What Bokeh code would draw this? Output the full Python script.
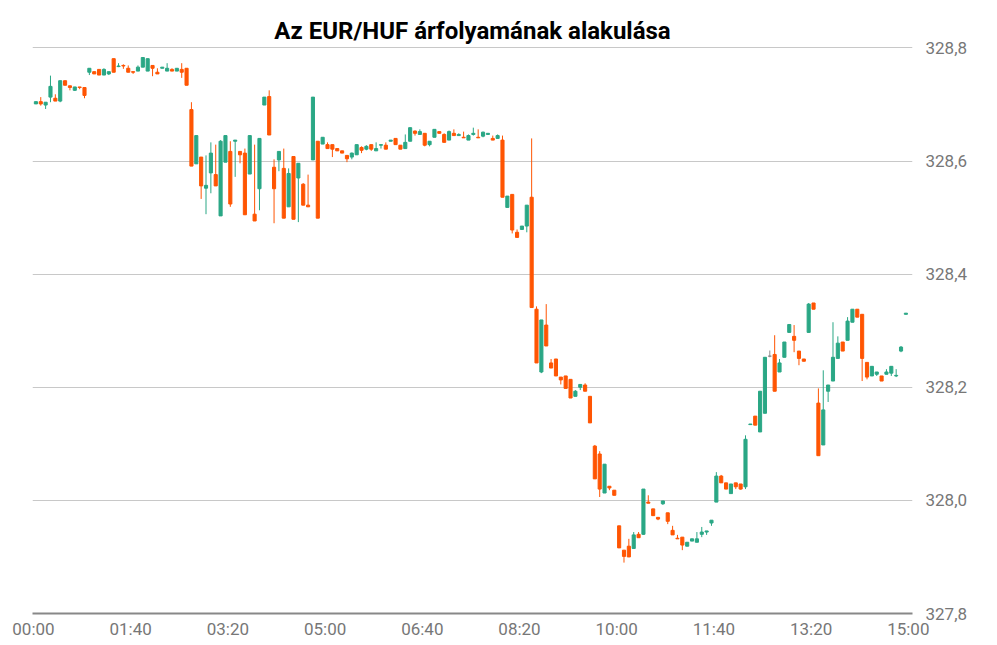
from bokeh.plotting import figure
from bokeh.models import Range1d, FixedTicker, CustomJSTickFormatter, ColumnDataSource
from bokeh.embed import file_html
from bokeh.resources import INLINE

TITLE = "Az EUR/HUF árfolyamának alakulása"

# 5-minute candles, start minute of each interval (00:00 .. 14:55)
candle_start = list(range(0, 900, 5))

opens = [
    328.701, 328.705, 328.699, 328.713, 328.711, 328.706, 328.742, 328.733, 328.725, 328.731,
    328.730, 328.757, 328.758, 328.762, 328.752, 328.754, 328.781, 328.767, 328.769, 328.764,
    328.758, 328.759, 328.766, 328.759, 328.769, 328.757, 328.764, 328.759, 328.762, 328.759,
    328.762, 328.764, 328.691, 328.595, 328.607, 328.552, 328.579, 328.576, 328.503, 328.598,
    328.617, 328.635, 328.617, 328.614, 328.577, 328.506, 328.551, 328.699, 328.714, 328.589,
    328.602, 328.587, 328.519, 328.608, 328.570, 328.559, 328.522, 328.602, 328.635, 328.630,
    328.629, 328.629, 328.622, 328.618, 328.610, 328.607, 328.611, 328.624, 328.621, 328.629,
    328.618, 328.628, 328.628, 328.635, 328.640, 328.628, 328.622, 328.635, 328.653, 328.647,
    328.649, 328.629, 328.642, 328.652, 328.647, 328.637, 328.649, 328.645, 328.642, 328.637,
    328.647, 328.642, 328.644, 328.647, 328.640, 328.640, 328.637, 328.518, 328.541, 328.474,
    328.479, 328.485, 328.536, 328.338, 328.227, 328.310, 328.243, 328.250, 328.218, 328.220,
    328.214, 328.184, 328.200, 328.204, 328.184, 328.096, 328.082, 328.013, 328.025, 328.018,
    327.955, 327.912, 327.919, 327.915, 327.940, 327.940, 327.997, 327.985, 327.970, 327.994,
    327.978, 327.947, 327.933, 327.935, 327.919, 327.928, 327.926, 327.940, 327.944, 327.960,
    327.997, 328.043, 328.031, 328.012, 328.031, 328.029, 328.024, 328.134, 328.149, 328.121,
    328.154, 328.255, 328.258, 328.227, 328.253, 328.297, 328.290, 328.264, 328.250, 328.297,
    328.349, 328.172, 328.098, 328.193, 328.211, 328.251, 328.280, 328.283, 328.315, 328.338,
    328.329, 328.244, 328.220, 328.223, 328.220, 328.223, 328.225, 328.220, 328.264, 328.329,
]
highs = [
    328.705, 328.713, 328.704, 328.751, 328.718, 328.742, 328.742, 328.733, 328.731, 328.731,
    328.730, 328.764, 328.758, 328.762, 328.764, 328.758, 328.781, 328.773, 328.771, 328.769,
    328.758, 328.769, 328.783, 328.781, 328.769, 328.764, 328.766, 328.773, 328.764, 328.764,
    328.773, 328.764, 328.704, 328.645, 328.607, 328.610, 328.633, 328.629, 328.637, 328.645,
    328.635, 328.637, 328.617, 328.622, 328.645, 328.629, 328.640, 328.713, 328.725, 328.603,
    328.617, 328.622, 328.587, 328.608, 328.596, 328.561, 328.576, 328.713, 328.635, 328.642,
    328.633, 328.629, 328.622, 328.618, 328.610, 328.615, 328.629, 328.626, 328.628, 328.629,
    328.633, 328.629, 328.633, 328.637, 328.640, 328.628, 328.647, 328.659, 328.654, 328.656,
    328.649, 328.635, 328.656, 328.652, 328.649, 328.654, 328.656, 328.649, 328.652, 328.647,
    328.659, 328.656, 328.652, 328.649, 328.645, 328.647, 328.645, 328.538, 328.541, 328.479,
    328.485, 328.522, 328.640, 328.343, 328.319, 328.347, 328.250, 328.250, 328.218, 328.220,
    328.214, 328.195, 328.205, 328.207, 328.184, 328.098, 328.087, 328.064, 328.025, 328.018,
    327.955, 327.912, 327.932, 327.944, 327.944, 328.020, 328.009, 327.985, 327.970, 327.999,
    327.978, 327.955, 327.939, 327.935, 327.926, 327.932, 327.944, 327.953, 327.946, 327.965,
    328.050, 328.045, 328.031, 328.029, 328.031, 328.029, 328.115, 328.135, 328.149, 328.193,
    328.253, 328.265, 328.292, 328.250, 328.280, 328.311, 328.310, 328.264, 328.250, 328.349,
    328.349, 328.198, 328.230, 328.204, 328.315, 328.290, 328.280, 328.324, 328.338, 328.338,
    328.329, 328.244, 328.237, 328.227, 328.220, 328.232, 328.237, 328.232, 328.273, 328.331,
]
lows = [
    328.701, 328.698, 328.692, 328.704, 328.706, 328.704, 328.734, 328.725, 328.724, 328.727,
    328.711, 328.752, 328.754, 328.752, 328.752, 328.752, 328.757, 328.766, 328.763, 328.757,
    328.754, 328.759, 328.766, 328.759, 328.750, 328.754, 328.764, 328.759, 328.759, 328.759,
    328.747, 328.734, 328.591, 328.595, 328.533, 328.506, 328.543, 328.556, 328.503, 328.598,
    328.519, 328.572, 328.596, 328.505, 328.577, 328.494, 328.513, 328.699, 328.646, 328.490,
    328.582, 328.499, 328.519, 328.497, 328.492, 328.522, 328.519, 328.602, 328.499, 328.630,
    328.622, 328.607, 328.618, 328.614, 328.598, 328.603, 328.611, 328.614, 328.619, 328.618,
    328.618, 328.622, 328.621, 328.635, 328.629, 328.621, 328.622, 328.635, 328.645, 328.647,
    328.626, 328.626, 328.642, 328.649, 328.633, 328.637, 328.645, 328.645, 328.641, 328.637,
    328.645, 328.641, 328.642, 328.647, 328.637, 328.640, 328.536, 328.518, 328.472, 328.465,
    328.479, 328.474, 328.341, 328.243, 328.225, 328.273, 328.234, 328.220, 328.205, 328.198,
    328.181, 328.184, 328.195, 328.193, 328.137, 328.038, 328.006, 328.013, 328.018, 328.009,
    327.916, 327.890, 327.900, 327.915, 327.934, 327.939, 327.995, 327.973, 327.965, 327.992,
    327.958, 327.939, 327.932, 327.912, 327.919, 327.928, 327.926, 327.935, 327.939, 327.955,
    327.997, 328.031, 328.020, 328.012, 328.020, 328.019, 328.020, 328.134, 328.133, 328.121,
    328.154, 328.253, 328.193, 328.227, 328.253, 328.297, 328.262, 328.239, 328.246, 328.297,
    328.338, 328.079, 328.098, 328.174, 328.211, 328.251, 328.264, 328.283, 328.315, 328.324,
    328.211, 328.214, 328.220, 328.220, 328.211, 328.223, 328.220, 328.218, 328.262, 328.329,
]
closes = [
    328.705, 328.701, 328.704, 328.732, 328.706, 328.742, 328.734, 328.730, 328.731, 328.730,
    328.716, 328.764, 328.754, 328.752, 328.762, 328.758, 328.757, 328.768, 328.768, 328.757,
    328.757, 328.766, 328.783, 328.781, 328.764, 328.754, 328.766, 328.764, 328.759, 328.764,
    328.757, 328.734, 328.591, 328.645, 328.556, 328.557, 328.614, 328.556, 328.635, 328.645,
    328.524, 328.637, 328.611, 328.505, 328.645, 328.494, 328.640, 328.713, 328.646, 328.551,
    328.617, 328.499, 328.578, 328.497, 328.596, 328.522, 328.519, 328.713, 328.499, 328.642,
    328.622, 328.621, 328.618, 328.614, 328.604, 328.614, 328.629, 328.619, 328.626, 328.621,
    328.622, 328.629, 328.621, 328.637, 328.629, 328.621, 328.633, 328.659, 328.649, 328.652,
    328.628, 328.635, 328.656, 328.649, 328.633, 328.652, 328.645, 328.647, 328.641, 328.645,
    328.649, 328.641, 328.651, 328.649, 328.637, 328.645, 328.536, 328.538, 328.478, 328.465,
    328.485, 328.522, 328.341, 328.243, 328.319, 328.273, 328.234, 328.220, 328.213, 328.198,
    328.181, 328.193, 328.205, 328.193, 328.137, 328.038, 328.020, 328.064, 328.022, 328.009,
    327.916, 327.901, 327.900, 327.939, 327.934, 328.020, 327.995, 327.973, 327.967, 327.999,
    327.963, 327.939, 327.932, 327.921, 327.926, 327.932, 327.932, 327.944, 327.946, 327.965,
    328.043, 328.031, 328.020, 328.029, 328.024, 328.020, 328.108, 328.135, 328.133, 328.193,
    328.253, 328.255, 328.193, 328.243, 328.280, 328.311, 328.283, 328.251, 328.246, 328.347,
    328.338, 328.079, 328.160, 328.204, 328.253, 328.278, 328.264, 328.317, 328.338, 328.324,
    328.251, 328.218, 328.237, 328.227, 328.211, 328.227, 328.237, 328.221, 328.271, 328.331,
]

x_ticks = [0, 100, 200, 300, 400, 500, 600, 700, 800, 900]
y_ticks = [327.8, 328.0, 328.2, 328.4, 328.6, 328.8]

UP = "#2aa785"
DOWN = "#ff5503"
FLAT = "#8c8c8c"

xs, tops, bottoms, hi, lo, colors = [], [], [], [], [], []
for s, o, h, l, c in zip(candle_start, opens, highs, lows, closes):
    xs.append(s + 2.5)
    tops.append(max(o, c))
    bottoms.append(min(o, c))
    hi.append(max(h, o, c))
    lo.append(min(l, o, c))
    colors.append(UP if c > o else (DOWN if c < o else FLAT))

src = ColumnDataSource(dict(x=xs, top=tops, bottom=bottoms, high=hi, low=lo, color=colors))

# small headroom above 328,8 so that the top grid line is drawn inside the frame
p = figure(width=981, height=641,
           x_range=Range1d(-1, 904.3), y_range=Range1d(327.8, 328.8025),
           y_axis_location="right",
           output_backend="svg", toolbar_location=None,
           min_border_left=32, min_border_right=69, min_border_top=46, min_border_bottom=20,
           title=TITLE)

p.title.align = "center"
p.title.text_font = "Roboto"
p.title.text_font_size = "24px"
p.title.text_font_style = "bold"
p.title.text_color = "#000000"
p.title.standoff = 4

p.outline_line_color = None
p.background_fill_color = "white"
p.border_fill_color = "white"

p.xgrid.visible = False
p.ygrid.grid_line_color = "#c8c8c8"
p.ygrid.grid_line_width = 1

p.xaxis.ticker = FixedTicker(ticks=x_ticks)
p.xaxis.formatter = CustomJSTickFormatter(code="""
const h = Math.floor(tick / 60), m = Math.round(tick % 60);
return String(h).padStart(2, '0') + ':' + String(m).padStart(2, '0');
""")
p.xaxis.axis_line_color = "#888888"
p.xaxis.axis_line_width = 2
p.xaxis.major_tick_line_color = None
p.xaxis.minor_tick_line_color = None
p.xaxis.major_tick_out = 0
p.xaxis.major_tick_in = 0
p.xaxis.major_label_standoff = 5
p.xaxis.major_label_text_font = "Roboto"
p.xaxis.major_label_text_font_size = "17px"
p.xaxis.major_label_text_color = "#777777"

p.yaxis.ticker = FixedTicker(ticks=y_ticks)
p.yaxis.formatter = CustomJSTickFormatter(code="return tick.toFixed(1).replace('.', ',');")
p.yaxis.axis_line_color = None
p.yaxis.major_tick_line_color = None
p.yaxis.minor_tick_line_color = None
p.yaxis.major_tick_out = 0
p.yaxis.major_tick_in = 0
p.yaxis.major_label_standoff = 13
p.yaxis.major_label_text_font = "Roboto"
p.yaxis.major_label_text_font_size = "17px"
p.yaxis.major_label_text_color = "#777777"

p.segment(x0="x", y0="high", x1="x", y1="low", line_color="color", line_width=1, source=src)
p.vbar(x="x", width=3.2, top="top", bottom="bottom", fill_color="color",
       line_color="color", line_width=1, source=src)

open("out.html", "w").write(file_html(p, INLINE))
